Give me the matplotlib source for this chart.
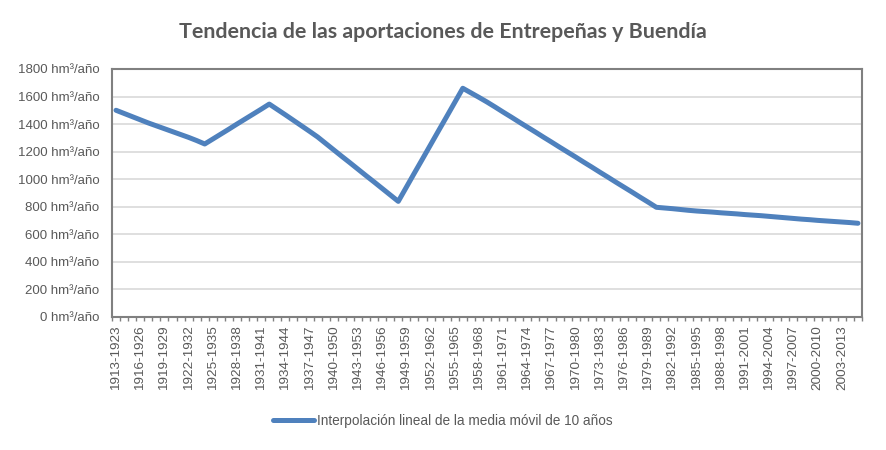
import matplotlib.pyplot as plt
import numpy as np

# periodos de 10 años (media móvil), uno por año de inicio
periodos = [f"{a}-{a + 10}" for a in range(1913, 2006)]

# aportaciones, hm³/año
aportaciones = [
    1500, 1477, 1454, 1431, 1408, 1387, 1366, 1345, 1324, 1303, 1280, 1255,
    1291, 1327, 1363, 1400, 1436, 1472, 1508, 1545,
    1506, 1467, 1427, 1387, 1347, 1306,
    1259, 1212, 1165, 1119, 1072, 1025, 979, 932, 885, 838,
    941, 1044, 1146, 1249, 1352, 1454, 1557, 1660,
    1627, 1594, 1560,
    1524, 1487, 1451, 1414, 1378, 1342, 1305, 1269, 1232, 1196, 1160, 1123,
    1087, 1050, 1014, 977, 941, 905, 868, 832, 795,
    790, 785, 779, 773, 768, 764, 760, 755, 751, 747, 742, 738, 734, 729,
    724, 719, 714, 709, 705, 700, 696, 692, 688, 684, 679,
]

y_ticks = list(range(0, 1801, 200))

texto = '#595959'
fuente = ['Liberation Sans', 'DejaVu Sans']

fig = plt.figure(figsize=(8.86, 4.5), dpi=100)
ax = fig.add_axes([0.1264, 0.2962, 0.8465, 0.5505])

x = np.arange(len(periodos))
ax.plot(x, aportaciones, color='#4F81BD', lw=3.6, solid_capstyle='round',
        solid_joinstyle='round', label='Interpolación lineal de la media móvil de 10 años')

ax.set_xlim(-0.5, len(periodos) - 0.5)
ax.set_ylim(0, 1800)
ax.set_yticks(y_ticks)
ax.set_yticklabels([f"{v} hm³/año" for v in y_ticks], family=fuente, fontsize=9.5, color=texto)
ax.tick_params(axis='y', length=0, pad=9)

ax.set_xticks(x[::3])
ax.set_xticklabels(periodos[::3], rotation=90, family=fuente, fontsize=9.7, color=texto)
ax.set_xticks(np.arange(-0.5, len(periodos)), minor=True)
ax.tick_params(axis='x', which='major', length=0, pad=6)
ax.tick_params(axis='x', which='minor', length=3, width=1, color='#808080')

ax.grid(axis='y', color='#D9D9D9', lw=1.2)
ax.set_axisbelow(True)
for s in ax.spines.values():
    s.set_color('#808080')
    s.set_linewidth(1.5)

fig.suptitle('Tendencia de las aportaciones de Entrepeñas y Buendía', x=0.5, y=0.952,
             fontsize=15.4, fontweight='bold', color=texto, family=['Lato', 'DejaVu Sans'])

leg = fig.legend(loc='center', bbox_to_anchor=(0.5, 0.064), frameon=False,
                 prop={'family': fuente, 'size': 9.8}, handlelength=3.0, handletextpad=0.2)
for t in leg.get_texts():
    t.set_color(texto)

fig.savefig('out.png', dpi=100)
